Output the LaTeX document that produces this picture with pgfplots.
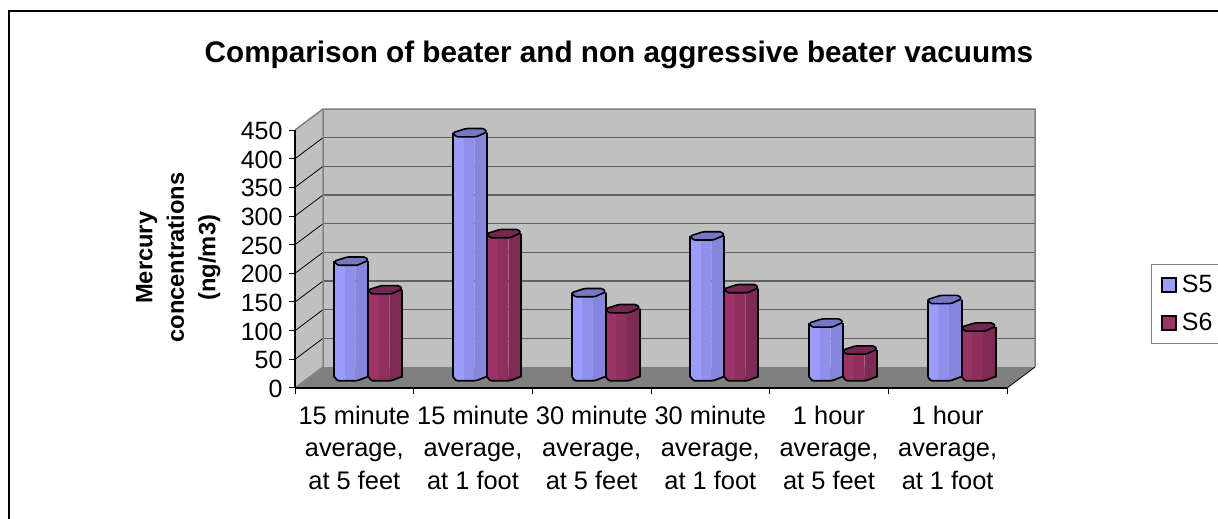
\documentclass[border=0pt]{standalone}
\usepackage{pgfplots}
\usepackage{pgfplotstable}
\usepackage{fontspec}
\setmainfont{Liberation Sans}
\pgfplotsset{compat=1.18}
\definecolor{aL}{HTML}{9C9CFF}\definecolor{aM}{HTML}{9090EC}\definecolor{aR}{HTML}{8686DC}\definecolor{aT}{HTML}{7777C6}
\definecolor{bL}{HTML}{9A3366}\definecolor{bM}{HTML}{8F2F5E}\definecolor{bR}{HTML}{7F2A54}\definecolor{bT}{HTML}{742750}
\definecolor{wall}{HTML}{C0C0C0}\definecolor{floorc}{HTML}{808080}\definecolor{gridc}{HTML}{606060}
\pgfplotstableread{
x S5 S6 base
0.5 203 153 0
1.5 427 251 0
2.5 148 120 0
3.5 247 155 0
4.5 95 48 0
5.5 136 88 0
}\datatable
\newcommand{\declcyl}[1]{%
\pgfdeclareplotmark{base#1}{%
 \fill[#1L] (-17pt,1pt)--(-14pt,-3.2pt)--(-6pt,-3.2pt)--(-6pt,1pt)--cycle;
 \fill[#1M] (-6pt,1pt)--(-6pt,-3.2pt)--(4pt,-3.2pt)--(4pt,1pt)--cycle;
 \fill[#1R] (4pt,1pt)--(4pt,-3.2pt)--(6pt,-3.2pt)--(17pt,1pt)--cycle;
 \draw[black,line width=1.7pt,line join=round,rounded corners=1.2pt] (-17pt,1pt)--(-14pt,-3.2pt)--(6pt,-3.2pt)--(17pt,1pt);
}%
\pgfdeclareplotmark{top#1}{%
 \draw[black,fill=#1T,line width=1.6pt,line join=round,rounded corners=1.5pt] (-17pt,0pt)--(-4pt,4.15pt)--(14pt,4.15pt)--(17pt,0.7pt)--(6pt,-4.15pt)--(-14pt,-4.15pt)--cycle;
}}
\declcyl{a}
\declcyl{b}
\newcommand{\cylseries}[3]{%
\addplot[ybar,bar width=11.5pt,bar shift=-11.25pt,draw=none,fill=#1L,forget plot,xshift=14pt+#3,yshift=10.5pt] table[x=x,y=#2]{\datatable};
\addplot[ybar,bar width=10.5pt,bar shift=-1pt,draw=none,fill=#1M,forget plot,xshift=14pt+#3,yshift=10.5pt] table[x=x,y=#2]{\datatable};
\addplot[ybar,bar width=12.5pt,bar shift=10.75pt,draw=none,fill=#1R,forget plot,xshift=14pt+#3,yshift=10.5pt] table[x=x,y=#2]{\datatable};
\addplot[only marks,mark=base#1,forget plot,xshift=14pt+#3,yshift=10.5pt] table[x=x,y=base]{\datatable};
\addplot[ybar,bar width=0pt,bar shift=-17pt,draw=black,line width=1.7pt,forget plot,xshift=14pt+#3,yshift=10.5pt] table[x=x,y=#2]{\datatable};
\addplot[ybar,bar width=0pt,bar shift=17pt,draw=black,line width=1.7pt,forget plot,xshift=14pt+#3,yshift=10.5pt] table[x=x,y=#2]{\datatable};
\addplot[only marks,mark=top#1,forget plot,xshift=14pt+#3,yshift=10.5pt] table[x=x,y=#2]{\datatable};
}
\begin{document}
\begin{tikzpicture}[x=1pt,y=1pt]
\useasboundingbox (0,0) rectangle (1218,519);
\draw[black,line width=2pt] (9,-10)--(9,508)--(1230,508);
\begin{axis}[
  at={(295pt,131pt)},anchor=origin,
  scale only axis,width=712pt,height=258pt,
  xmin=0,xmax=6,ymin=0,ymax=450,clip=false,
  axis lines=left,axis line style={-,black,line width=1.2pt},
  axis on top,
  /pgf/number format/assume math mode=true,
  ytick={0,50,...,450},
  xtick={0.5,1.5,2.5,3.5,4.5,5.5},
  minor xtick={0,1,2,3,4,5,6},
  xticklabels={{15 minute\\average,\\at 5 feet},{15 minute\\average,\\at 1 foot},{30 minute\\average,\\at 5 feet},{30 minute\\average,\\at 1 foot},{1 hour\\average,\\at 5 feet},{1 hour\\average,\\at 1 foot}},
  tick align=outside,major tick length=6.5pt,minor tick length=6.5pt,
  tick style={black,line width=1pt},
  x tick style={draw=none},
  minor x tick style={draw=black,line width=1pt},
  yticklabel style={font=\fontsize{25}{25}\selectfont,xshift=-2.5pt,yshift=-1pt},
  xticklabel style={font=\fontsize{25.4}{32.5}\selectfont,align=center,yshift=-8pt},
  title={Comparison of beater and non aggressive beater vacuums},
  title style={at={(axis description cs:0.455,1.24)},anchor=base,font=\bfseries\fontsize{29.7}{32}\selectfont},
  ylabel={Mercury\\concentrations\\(ng/m3)},
  ylabel style={at={(axis description cs:-0.164,0.505)},anchor=center,align=center,font=\bfseries\fontsize{23.7}{31.5}\selectfont},
  legend style={at={(axis description cs:1.2022,0.4806)},anchor=north west,draw=floorc,line width=1pt,fill=white,
    font=\fontsize{25}{25}\selectfont,row sep=15pt,column sep=3pt,inner xsep=10pt,inner ysep=9pt,legend cell align=left},
]
\addplot[fill=wall,draw=none,forget plot] coordinates {(0.236,36.6)(6.236,36.6)(6.236,486.6)(0.236,486.6)};
\addplot[fill=wall,draw=none,forget plot] coordinates {(0,0)(0.236,36.6)(0.236,486.6)(0,450)};
\addplot[fill=floorc,draw=none,forget plot] coordinates {(0,0)(6,0)(6.236,36.6)(0.236,36.6)};
\addplot[gridc,line width=1.5pt,forget plot,unbounded coords=jump] coordinates {
 (0.236,86.6)(6.236,86.6)(nan,nan)(0.236,136.6)(6.236,136.6)(nan,nan)(0.236,186.6)(6.236,186.6)(nan,nan)
 (0.236,236.6)(6.236,236.6)(nan,nan)(0.236,286.6)(6.236,286.6)(nan,nan)(0.236,336.6)(6.236,336.6)(nan,nan)
 (0.236,386.6)(6.236,386.6)(nan,nan)(0.236,436.6)(6.236,436.6)};
\addplot[black,line width=0.8pt,forget plot,unbounded coords=jump] coordinates {
 (0,50)(0.236,86.6)(nan,nan)(0,100)(0.236,136.6)(nan,nan)(0,150)(0.236,186.6)(nan,nan)
 (0,200)(0.236,236.6)(nan,nan)(0,250)(0.236,286.6)(nan,nan)(0,300)(0.236,336.6)(nan,nan)
 (0,350)(0.236,386.6)(nan,nan)(0,400)(0.236,436.6)(nan,nan)(6,0)(6.236,36.6)};
\addplot[floorc,line width=1.5pt,forget plot] coordinates {(0,0)(0.236,36.6)(0.236,486.6)(6.236,486.6)(6.236,36.6)};
\addplot[floorc,line width=1.5pt,forget plot] coordinates {(0,450)(0.236,486.6)};
\cylseries{a}{S5}{-17pt}
\cylseries{b}{S6}{17pt}
\addlegendimage{legend image code/.code={\draw[black,fill=aL,line width=1.5pt] (0pt,-7pt) rectangle (14pt,7pt);}}
\addlegendentry{S5}
\addlegendimage{legend image code/.code={\draw[black,fill=bL,line width=1.5pt] (0pt,-7pt) rectangle (14pt,7pt);}}
\addlegendentry{S6}
\end{axis}
\end{tikzpicture}
\end{document}
